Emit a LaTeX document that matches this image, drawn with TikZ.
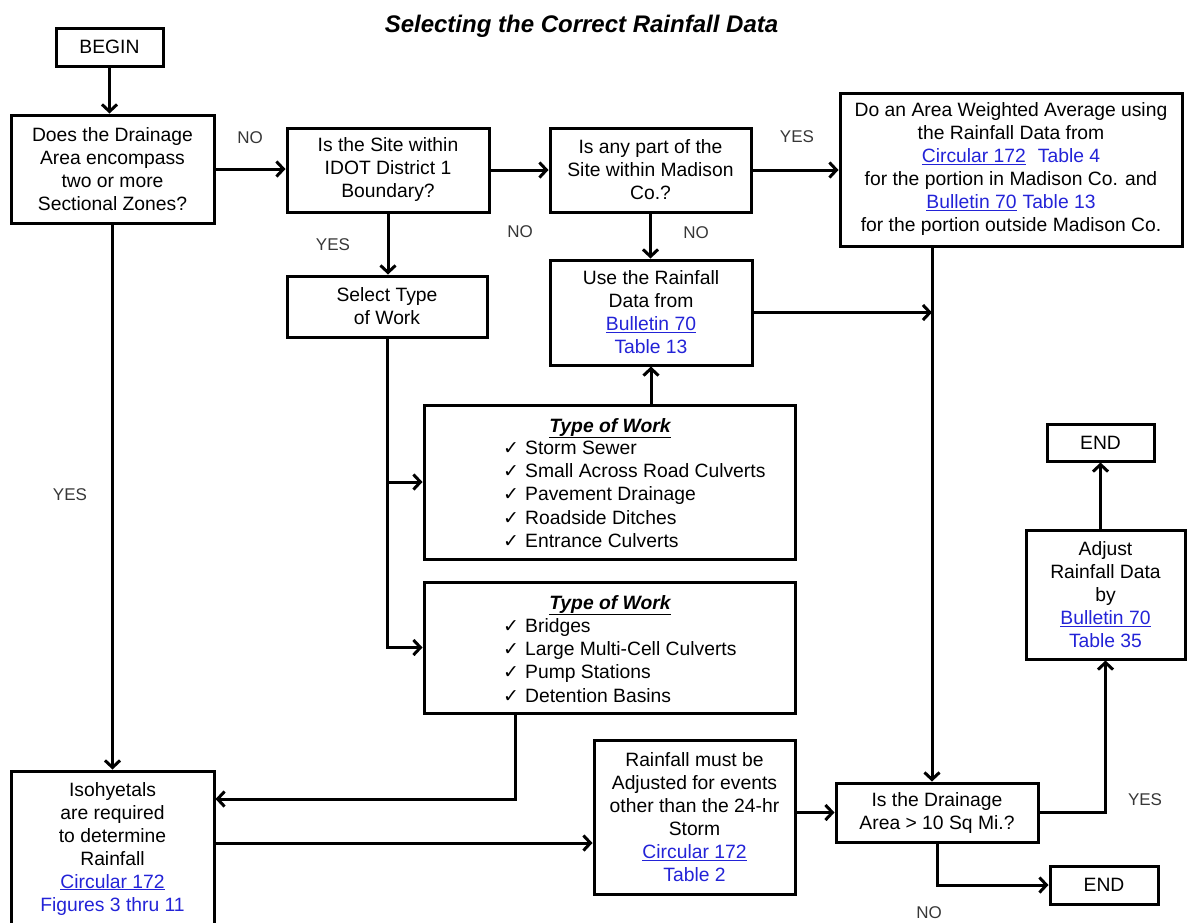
\documentclass[tikz,border=0pt]{standalone}
\usepackage{fontspec}
\setmainfont{Liberation Sans}
\newfontfamily\dejavu{DejaVu Sans}
\usetikzlibrary{arrows.meta}
\definecolor{linkblue}{RGB}{35,35,215}
\definecolor{lblgray}{RGB}{55,55,55}
\newcommand\lnk[1]{\textcolor{linkblue}{\underline{#1}}}
\newcommand\blu[1]{\textcolor{linkblue}{#1}}
\newcommand\ck{\makebox[22pt][l]{\dejavu\fontsize{19}{19}\selectfont ✓}}
\begin{document}
\begin{tikzpicture}[x=1pt,y=-1pt,
  box/.style={draw, line width=3pt, align=center, inner sep=0pt, font=\fontsize{19.3}{23}\selectfont},
  conn/.style={line width=3pt, -{Straight Barb[length=7pt,width=15pt]}},
  lbl/.style={font=\fontsize{17}{17}\selectfont, text=lblgray, inner sep=0pt},
  item/.style={font=\fontsize{19.3}{23}\selectfont, inner sep=0pt, anchor=base west},
  ttl/.style={font=\fontsize{19.3}{23}\selectfont\bfseries\itshape, inner sep=0pt, anchor=base},
]
\useasboundingbox (0,0) rectangle (1187,922);
\clip (0,0) rectangle (1187,922);

\node[font=\fontsize{24}{24}\selectfont\bfseries\itshape, anchor=base, inner sep=0pt] (title) at (581.5,32) {Selecting the Correct Rainfall Data};

\node[box, minimum width=107pt, minimum height=38pt] (begin) at (109.5,47) {BEGIN};
\node[box, minimum width=203pt, minimum height=108pt] (q1) at (112.5,169) {Does the Drainage\\Area encompass\\two or more\\Sectional Zones?};
\node[box, minimum width=202pt, minimum height=84pt] (q2) at (388,170) {Is the Site within\\IDOT District 1\\Boundary?};
\node[box, minimum width=201pt, minimum height=84pt] (q3) at (650.5,170) {Is any part of the\\Site within Madison\\Co.?};
\node[box, minimum width=342pt, minimum height=153pt] (wavg) at (1011,169.5) {Do an Area Weighted Average using\\the Rainfall Data from\\\lnk{Circular 172}\hspace{12pt}\blu{Table 4}\\for the portion in Madison Co. and\\\lnk{Bulletin 70}\hspace{6pt}\blu{Table 13}\\for the portion outside Madison Co.};
\node[box, minimum width=200pt, minimum height=61pt] (sel) at (387,306.5) {Select Type\\of Work};
\node[box, minimum width=202pt, minimum height=105pt] (bul) at (651,312.5) {Use the Rainfall\\Data from\\\lnk{Bulletin 70}\\\blu{Table 13}};

\node[box, minimum width=371pt, minimum height=154pt] (typeA) at (609.5,482) {};
\node[ttl] (typeAt) at (610,432) {\underline{Type of Work}};
\foreach \t [count=\i] in {Storm Sewer, Small Across Road Culverts, Pavement Drainage, Roadside Ditches, Entrance Culverts}
  \node[item] (a\i) at (503,430.6+23.4*\i) {\ck\t};

\node[box, minimum width=371pt, minimum height=131pt] (typeB) at (609.5,647.5) {};
\node[ttl] (typeBt) at (610,609) {\underline{Type of Work}};
\foreach \t [count=\i] in {Bridges, Large Multi-Cell Culverts, Pump Stations, Detention Basins}
  \node[item] (b\i) at (503,608.6+23.4*\i) {\ck\t};

\node[box, minimum width=203pt, minimum height=155pt] (iso) at (112.5,848.5) {Isohyetals\\are required\\to determine\\Rainfall\\\lnk{Circular 172}\\\blu{Figures 3 thru 11}};
\node[box, minimum width=201pt, minimum height=154pt] (rain) at (694.5,817) {Rainfall must be\\Adjusted for events\\other than the 24-hr\\Storm\\\lnk{Circular 172}\\\blu{Table 2}};
\node[box, minimum width=202pt, minimum height=59pt] (drain) at (937,812.5) {Is the Drainage\\Area > 10 Sq Mi.?};
\node[box, minimum width=107pt, minimum height=37pt] (end1) at (1100.5,442.5) {END};
\node[box, minimum width=159pt, minimum height=129pt] (adj) at (1105.5,594.5) {Adjust\\Rainfall Data\\by\\\lnk{Bulletin 70}\\\blu{Table 35}};
\node[box, minimum width=108pt, minimum height=38pt] (end2) at (1104,885) {END};

% connectors
\draw[conn] (begin.south) -- (begin.south |- q1.north);
\draw[conn] (q1.east) -- (q1.east -| q2.west);
\draw[conn] (q2.east) -- (q2.east -| q3.west);
\draw[conn] (q3.east) -- (q3.east -| wavg.west);
\draw[conn] (q2.south) -- (q2.south |- sel.north);
\draw[conn] (q3.south) -- (q3.south |- bul.north);
\draw[conn] (q1.south) -- (q1.south |- iso.north);
\draw[conn] (sel.south) -- (sel.south |- typeB.west) -- (typeB.west);
\draw[conn] (sel.south |- typeA.west) -- (typeA.west);
\draw[conn] (typeA.north -| bul.south) -- (bul.south);
\coordinate (tbturn) at (515,799);
\draw[conn] (tbturn |- typeB.south) -- (tbturn) -- (tbturn -| iso.east);
\coordinate (ir) at (0,843);
\draw[conn] (iso.east |- ir) -- (rain.west |- ir);
\coordinate (vline) at (932,0);
\draw[conn] (wavg.south -| vline) -- (vline |- drain.north);
\draw[conn] (bul.east) -- (bul.east -| vline);
\draw[conn] (rain.east |- drain.west) -- (drain.west);
\draw[conn] (drain.east) -- (drain.east -| adj.south) -- (adj.south);
\draw[conn] (adj.north -| end1.south) -- (end1.south);
\draw[conn] (drain.south) -- (drain.south |- end2.west) -- (end2.west);

% labels
\node[lbl] (l1) at (250,138) {NO};
\node[lbl] (l2) at (333,245) {YES};
\node[lbl] (l3) at (520,232) {NO};
\node[lbl] (l4) at (797,137) {YES};
\node[lbl] (l5) at (696,233) {NO};
\node[lbl] (l6) at (70,495) {YES};
\node[lbl] (l7) at (1145,800) {YES};
\node[lbl] (l8) at (929,913) {NO};
\end{tikzpicture}
\end{document}
